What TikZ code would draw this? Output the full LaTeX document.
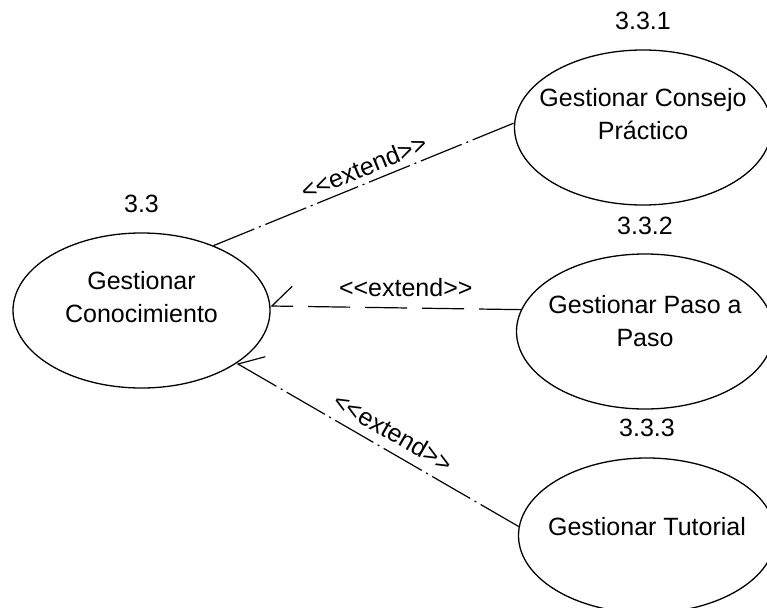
\documentclass[tikz,border=0pt]{standalone}
\usepackage{fontspec}
\setmainfont{Liberation Sans}[Ligatures=TeXOff]
\usetikzlibrary{arrows.meta,shapes.geometric}

\begin{document}
\begin{tikzpicture}[x=1pt,y=-1pt,
  usecase/.style={draw, ellipse, line width=1.3pt, minimum width=257pt,
    minimum height=155pt, inner sep=0pt},
  uctext/.style={align=center, inner sep=0pt, font=\fontsize{25}{33}\selectfont},
  idlabel/.style={anchor=base, inner sep=0pt, font=\fontsize{25}{30}\selectfont},
  stereo/.style={inner sep=0pt, font=\fontsize{25}{30}\selectfont},
  link/.style={line width=1.2pt},
  extendlink/.style={link, -{Straight Barb[harpoon,swap,length=20pt,width=40pt]}},
  dashdot/.style={dash pattern=on 44pt off 5pt on 2pt off 5pt},
  longdash/.style={dash pattern=on 42pt off 15pt}
]
\clip (0,0) rectangle (767,607);

% use cases
\node[usecase] (gc) at (141.5,310.5) {};
\node[uctext] (gc-name) at ([yshift=13pt]gc.center) {Gestionar\\Conocimiento};
\node[idlabel] (gc-id) at ([yshift=20pt]gc.north) {3.3};

\node[usecase] (cp) at (643,127.5) {};
\node[uctext] (cp-name) at ([yshift=13.5pt]cp.center) {Gestionar Consejo\\Práctico};
\node[idlabel] (cp-id) at ([yshift=20pt]cp.north) {3.3.1};

\node[usecase] (pp) at (645,331.5) {};
\node[uctext] (pp-name) at ([yshift=10.5pt]pp.center) {Gestionar Paso a\\Paso};
\node[idlabel] (pp-id) at ([yshift=19pt]pp.north) {3.3.2};

\node[usecase] (gt) at (647,535.5) {};
\node[uctext] (gt-name) at ([yshift=8.5pt]gt.center) {Gestionar Tutorial};
\node[idlabel] (gt-id) at ([yshift=21pt]gt.north) {3.3.3};

% extend relations
\draw[link, dashdot] (gc.42) --
  node[stereo, sloped, pos=.52, above=6pt] (e1)
  {\textless{}\textless{}extend\textgreater{}\textgreater} (cp.178);
\draw[extendlink, longdash] (pp.170) --
  node[stereo, pos=.46, above=10.5pt] (e2)
  {\textless{}\textless{}extend\textgreater{}\textgreater} (gc.2);
\draw[extendlink, dashdot] (gt.176.5) --
  node[stereo, sloped, pos=.478, above=9pt] (e3)
  {\textless{}\textless{}extend\textgreater{}\textgreater} (gc.-29);
\end{tikzpicture}
\end{document}
